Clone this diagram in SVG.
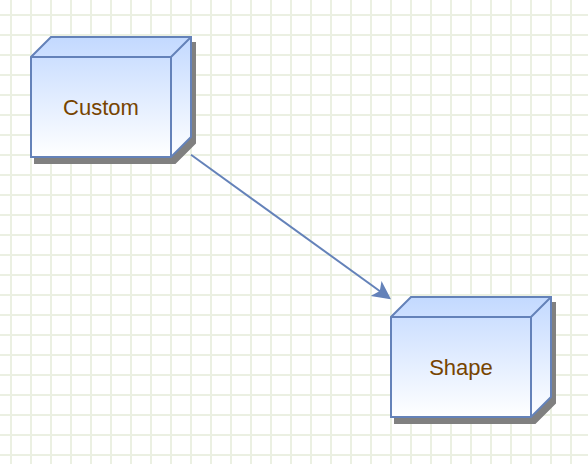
<svg xmlns="http://www.w3.org/2000/svg" width="588" height="464" viewBox="0 0 588 464">
  <defs>
    <pattern id="grid" x="0" y="0" width="20" height="20" patternUnits="userSpaceOnUse">
      <rect x="10" y="0" width="2" height="20" fill="#ebf0e2"/>
      <rect x="0" y="14" width="20" height="2" fill="#ebf0e2"/>
    </pattern>
    <linearGradient id="fillGrad" x1="0" y1="0" x2="0" y2="1">
      <stop offset="0" stop-color="#C3D9FF"/>
      <stop offset="1" stop-color="#FFFFFF"/>
    </linearGradient>
  </defs>
  <style>
    .shadow { fill: #808080; stroke: #808080; stroke-width: 2; }
    .cube { fill: url(#fillGrad); stroke: #6482B9; stroke-width: 2; stroke-linejoin: miter; }
    .inner { fill: none; stroke: #6482B9; stroke-width: 2; }
    .label { font-family: Helvetica, "Liberation Sans", Arial, sans-serif; font-size: 22px; fill: #774400; text-anchor: middle; }
    .edge { fill: none; stroke: #6482B9; stroke-width: 2; }
    .arrow { fill: #6482B9; stroke: #6482B9; stroke-width: 2; stroke-linejoin: miter; }
  </style>
  <rect x="0" y="0" width="588" height="464" fill="#ffffff"/>
  <rect x="0" y="0" width="588" height="464" fill="url(#grid)"/>

  <g id="node-custom">
    <path class="shadow" d="M55,43 L195,43 L195,143 L175,163 L35,163 L35,63 Z"/>
    <path class="cube" d="M51,37 L191,37 L191,137 L171,157 L31,157 L31,57 Z"/>
    <path class="inner" d="M31,57 L171,57 L191,37 M171,57 L171,157"/>
    <text class="label" x="101" y="114.5">Custom</text>
  </g>

  <g id="node-shape">
    <path class="shadow" d="M415,303 L555,303 L555,403 L535,423 L395,423 L395,323 Z"/>
    <path class="cube" d="M411,297 L551,297 L551,397 L531,417 L391,417 L391,317 Z"/>
    <path class="inner" d="M391,317 L531,317 L551,297 M531,317 L531,417"/>
    <text class="label" x="461" y="374.5">Shape</text>
  </g>

  <g id="connectors">
    <path class="edge" d="M191,154.8 L380.7,291.7"/>
    <path class="arrow" d="M389.2,297.9 L373.8,295.4 L380.7,291.7 L382,284 Z"/>
  </g>
</svg>
